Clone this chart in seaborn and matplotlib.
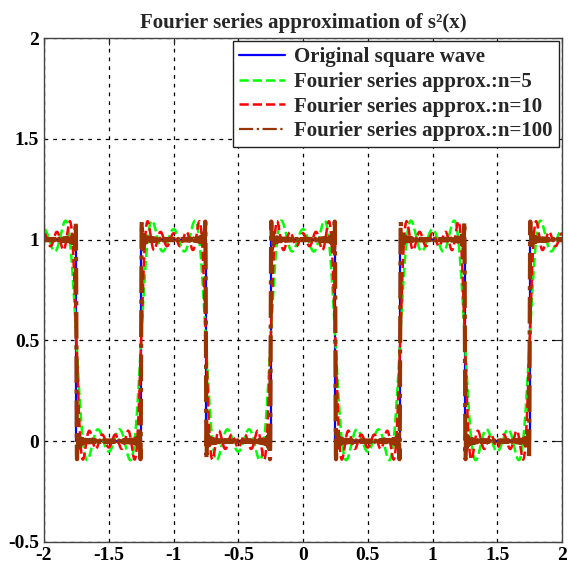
import numpy as np
import pandas as pd

import matplotlib
matplotlib.use("Agg")
import matplotlib.pyplot as plt
import seaborn as sns

# square wave: switching points and the level held after each one
wave_edges = [-2.0, -1.75, -1.25, -0.75, -0.25, 0.25, 0.75, 1.25, 1.75, 2.0]
wave_levels = [1, 0, 1, 0, 1, 0, 1, 0, 1]

# highest harmonic kept in each approximation (only odd ones are non-zero)
n_terms = [5, 10, 100]
series_labels = [
    "Fourier series approx.:n=5",
    "Fourier series approx.:n=10",
    "Fourier series approx.:n=100",
]
series_colors = ["#00ff00", "#ff0000", "#993300"]
series_styles = ["--", "--", "-."]
series_widths = [1.8, 1.8, 3.0]

xticks = [-2, -1.5, -1, -0.5, 0, 0.5, 1, 1.5, 2]
xtick_labels = ["-2", "-1.5", "-1", "-0.5", "0", "0.5", "1", "1.5", "2"]
yticks = [-0.5, 0, 0.5, 1, 1.5, 2]
ytick_labels = ["-0.5", "0", "0.5", "1", "1.5", "2"]

sns.set_style("white")
plt.rcParams["font.family"] = ["Liberation Serif", "DejaVu Serif"]
plt.rcParams["font.weight"] = "bold"

fig = plt.figure(figsize=(5.68, 5.67), dpi=100)
ax = fig.add_axes([44 / 568, 25 / 567, 518 / 568, 504 / 567])

# original square wave as a step outline
sq_x, sq_y = [], []
for i, lev in enumerate(wave_levels):
    sq_x += [wave_edges[i], wave_edges[i + 1]]
    sq_y += [lev, lev]
sq = pd.DataFrame({"x": sq_x, "y": sq_y})
sns.lineplot(data=sq, x="x", y="y", ax=ax, color="#0000ff", linewidth=1.6,
             sort=False, estimator=None, label="Original square wave")

# partial Fourier sums of the wave (mean 1/2, odd cosine harmonics)
x = np.linspace(-2, 2, 4001)
for n, lab, col, ls, lw in zip(n_terms, series_labels, series_colors,
                               series_styles, series_widths):
    y = np.full_like(x, 0.5)
    for k in range(1, n + 1, 2):
        sign = 1 if (k // 2) % 2 == 0 else -1
        y += (2 / np.pi) * sign / k * np.cos(2 * np.pi * k * x)
    df = pd.DataFrame({"x": x, "y": y})
    sns.lineplot(data=df, x="x", y="y", ax=ax, color=col, linestyle=ls,
                 linewidth=lw, sort=False, estimator=None, label=lab)

ax.set_xlim(-2, 2)
ax.set_ylim(-0.5, 2)
ax.set_xticks(xticks)
ax.set_xticklabels(xtick_labels)
ax.set_yticks(yticks)
ax.set_yticklabels(ytick_labels)
ax.set_xlabel("")
ax.set_ylabel("")
ax.tick_params(direction="in", top=True, right=True, length=5,
               labelsize=14, colors="#222222", labelcolor="black")
for s in ax.spines.values():
    s.set_color("#444444")
    s.set_linewidth(1.0)
ax.grid(True, linestyle=(0, (3, 4)), color="black", linewidth=0.9)

ax.set_title("Fourier series approximation of s²(x)", fontsize=15,
             fontweight="bold", pad=7)

leg = ax.legend(loc="upper right", fontsize=15, frameon=True, fancybox=False,
                edgecolor="#222222", framealpha=1, handlelength=2.2,
                labelspacing=0.22, borderaxespad=0.15, borderpad=0.3,
                handletextpad=0.45)
leg.get_frame().set_linewidth(1.0)
leg.get_lines()[3].set_linewidth(1.6)

fig.savefig("out.png", dpi=100)
